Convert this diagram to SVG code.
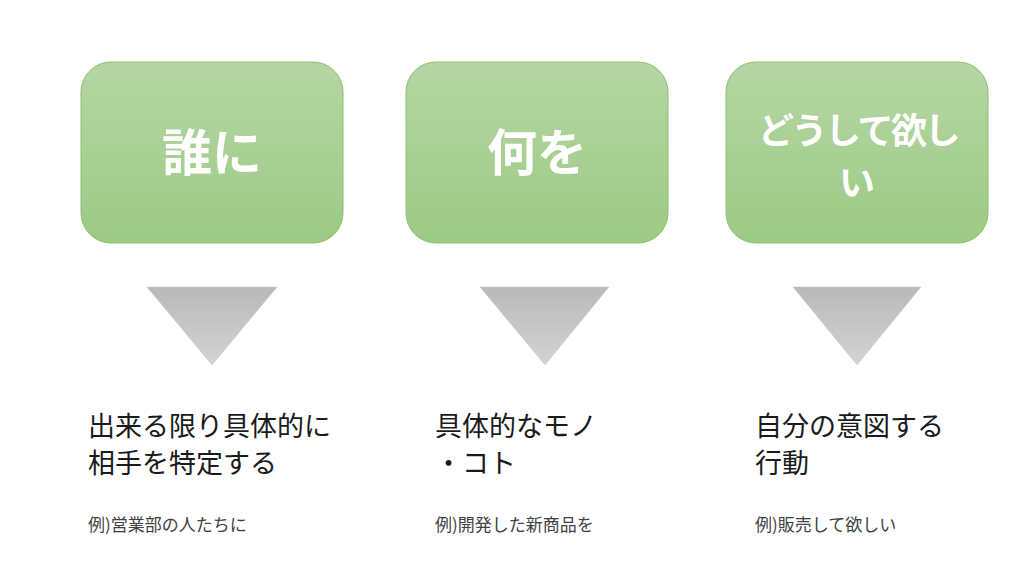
<svg xmlns="http://www.w3.org/2000/svg" width="1024" height="576" viewBox="0 0 1024 576">
<defs>
<linearGradient id="g" x1="0" y1="0" x2="0" y2="1"><stop offset="0" stop-color="#b5d6a4"/><stop offset="1" stop-color="#9cca84"/></linearGradient>
<linearGradient id="t" x1="0" y1="0" x2="0" y2="1"><stop offset="0" stop-color="#b9b9b9"/><stop offset="1" stop-color="#d3d3d3"/></linearGradient>
<style>
.box{fill:url(#g);stroke:#8cc06e;stroke-width:1}
.tri{fill:url(#t);stroke:#c8c8c8;stroke-width:0.5}
.h{font-family:"Noto Sans CJK JP",sans-serif;font-weight:bold;fill:#fff;text-anchor:middle}
.m{font-family:"Noto Sans CJK JP",sans-serif;font-size:27px;fill:#1a1a1a}
.s{font-family:"Noto Sans CJK JP",sans-serif;font-size:17px;fill:#404040}
</style>
</defs>
<g id="node-1"><rect class="box" x="81" y="62" width="262" height="181" rx="30"/><text class="h" x="212" y="171" font-size="50">誰に</text></g>
<g id="node-2"><rect class="box" x="406" y="62" width="262" height="181" rx="30"/><text class="h" x="537" y="171" font-size="50">何を</text></g>
<g id="node-3"><rect class="box" x="726" y="62" width="262" height="181" rx="30"/><text class="h" x="858" y="144" font-size="36" letter-spacing="-2.5">どうして欲し</text><text class="h" x="857" y="196" font-size="36">い</text></g>
<g id="connectors">
<polygon class="tri" points="147,287 277,287 212,365"/>
<polygon class="tri" points="480,287 609,287 545,365"/>
<polygon class="tri" points="793,287 921,287 857,365"/>
</g>
<g id="text-1"><text class="m" x="88" y="436">出来る限り具体的に</text><text class="m" x="88" y="473">相手を特定する</text><text class="s" x="88" y="531">例)営業部の人たちに</text></g>
<g id="text-2"><text class="m" x="435" y="436">具体的なモノ</text><text class="m" x="435" y="473">・コト</text><text class="s" x="435" y="531">例)開発した新商品を</text></g>
<g id="text-3"><text class="m" x="755" y="436">自分の意図する</text><text class="m" x="755" y="473">行動</text><text class="s" x="755" y="531">例)販売して欲しい</text></g>
</svg>
